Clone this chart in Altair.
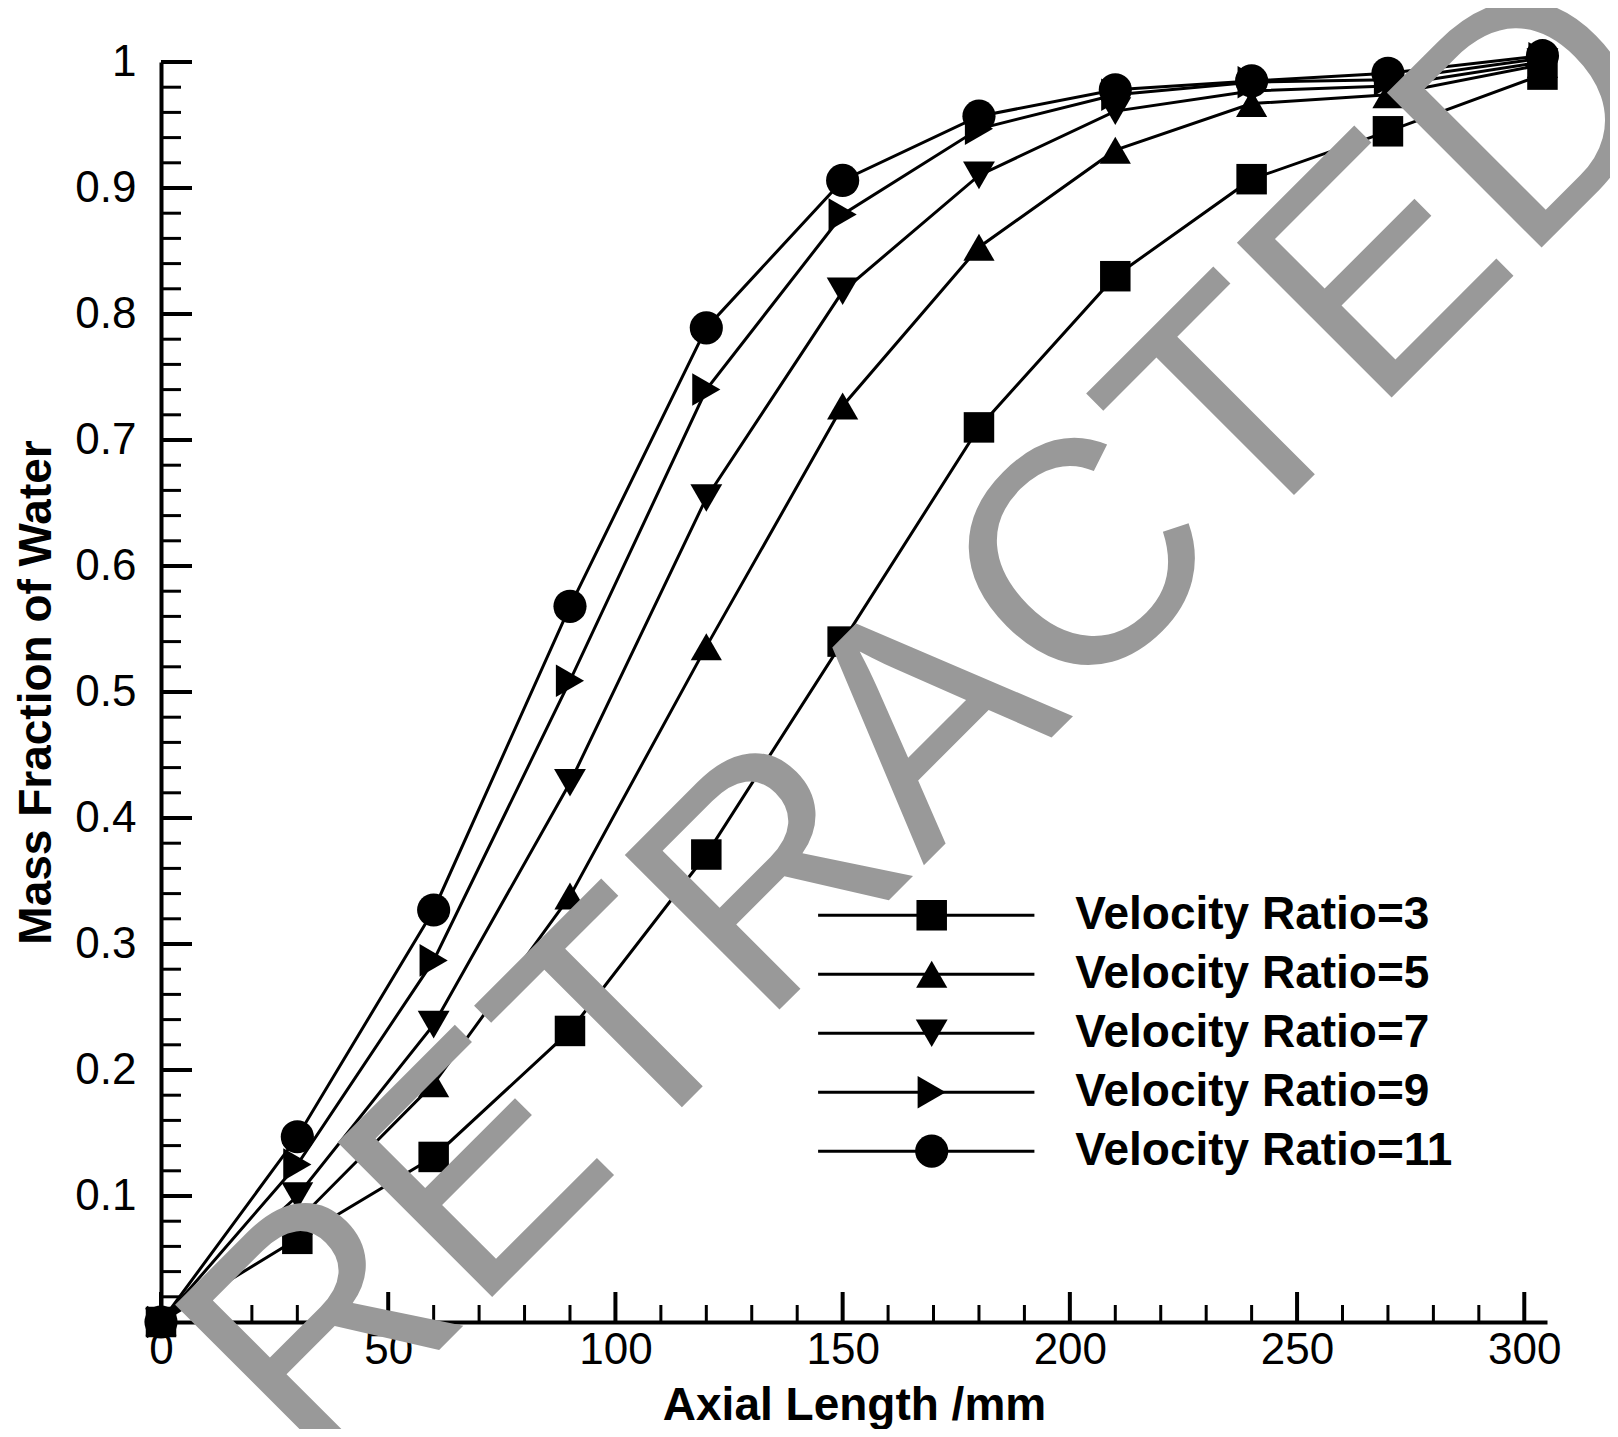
import altair as alt
import pandas as pd

# ---------------- data ----------------
x_mm = [0, 30, 60, 90, 120, 150, 180, 210, 240, 270, 304]

vr3 = [0.0, 0.066, 0.131, 0.231, 0.371, 0.540, 0.710, 0.830, 0.907, 0.945, 0.990]
vr5 = [0.0, 0.080, 0.189, 0.338, 0.536, 0.727, 0.853, 0.930, 0.967, 0.974, 0.998]
vr7 = [0.0, 0.100, 0.236, 0.428, 0.654, 0.818, 0.910, 0.961, 0.977, 0.981, 1.000]
vr9 = [0.0, 0.125, 0.287, 0.509, 0.740, 0.879, 0.947, 0.974, 0.984, 0.986, 1.003]
vr11 = [0.0, 0.147, 0.327, 0.568, 0.789, 0.906, 0.957, 0.978, 0.985, 0.991, 1.005]

labels = ["Velocity Ratio=3", "Velocity Ratio=5", "Velocity Ratio=7",
          "Velocity Ratio=9", "Velocity Ratio=11"]
shapes = ["square", "triangle-up", "triangle-down", "triangle-right", "circle"]
marker_sizes = [930, 1100, 1100, 1100, 1050]

x_major = [0, 50, 100, 150, 200, 250, 300]
x_minor = [10, 20, 30, 40, 60, 70, 80, 90, 110, 120, 130, 140, 160, 170, 180, 190,
           210, 220, 230, 240, 260, 270, 280, 290]
y_major = [0.1, 0.2, 0.3, 0.4, 0.5, 0.6, 0.7, 0.8, 0.9, 1.0]
y_minor = [0.02, 0.04, 0.06, 0.08, 0.12, 0.14, 0.16, 0.18, 0.22, 0.24, 0.26, 0.28,
           0.32, 0.34, 0.36, 0.38, 0.42, 0.44, 0.46, 0.48, 0.52, 0.54, 0.56, 0.58,
           0.62, 0.64, 0.66, 0.68, 0.72, 0.74, 0.76, 0.78, 0.82, 0.84, 0.86, 0.88,
           0.92, 0.94, 0.96, 0.98]

watermark_text = ["RETRACTED"]

# ---------------- layout constants ----------------
W, H = 1386, 1260
FONT = "Liberation Sans"
XDOM = [0, 305]
YDOM = [0, 1]

rows = []
for lab, ys in zip(labels, [vr3, vr5, vr7, vr9, vr11]):
    for xv, yv in zip(x_mm, ys):
        rows.append({"series": lab, "x": xv, "y": yv})
df = pd.DataFrame(rows)

xs = alt.Scale(domain=XDOM, nice=False, zero=False)
ys_ = alt.Scale(domain=YDOM, nice=False, zero=False)
shape_scale = alt.Scale(domain=labels, range=shapes)
size_scale = alt.Scale(domain=labels, range=marker_sizes)

x_axis = alt.Axis(values=x_major, format="d", title="Axial Length /mm",
                  labelFont=FONT, labelFontSize=44, labelColor="black", labelPadding=6,
                  labelFlush=False, labelOverlap=False,
                  ticks=False, grid=False, domainWidth=4, domainColor="black",
                  titleFont=FONT, titleFontSize=46, titleFontWeight="bold",
                  titleColor="black", titleY=83, titleBaseline="middle")
y_axis = alt.Axis(values=y_major, format=".1~f", title="Mass Fraction of Water",
                  labelFont=FONT, labelFontSize=44, labelColor="black", labelPadding=25,
                  labelFlush=False, labelOverlap=False,
                  ticks=False, grid=False, domainWidth=4, domainColor="black",
                  titleFont=FONT, titleFontSize=46, titleFontWeight="bold",
                  titleColor="black", titleAngle=270, titleX=-125, titleY=H / 2,
                  titleAlign="center", titleBaseline="middle")

base = alt.Chart(df)
lines = base.mark_line(color="black", strokeWidth=3).encode(
    x=alt.X("x:Q", scale=xs, axis=x_axis),
    y=alt.Y("y:Q", scale=ys_, axis=y_axis),
    detail="series:N",
)
points = base.mark_point(filled=True, color="black", opacity=1).encode(
    x=alt.X("x:Q", scale=xs),
    y=alt.Y("y:Q", scale=ys_),
    shape=alt.Shape("series:N", scale=shape_scale, legend=None),
    size=alt.Size("series:O", scale=size_scale, legend=None),
)

# inward ticks
def xticks(vals, length, width):
    return alt.Chart(pd.DataFrame({"x": vals})).mark_rule(
        color="black", strokeWidth=width).encode(
        x=alt.X("x:Q", scale=xs), y=alt.value(H), y2=alt.value(H - length))

def yticks(vals, length, width):
    return alt.Chart(pd.DataFrame({"y": vals})).mark_rule(
        color="black", strokeWidth=width).encode(
        y=alt.Y("y:Q", scale=ys_), x=alt.value(0), x2=alt.value(length))

tick_layers = [xticks(x_major, 30, 4), xticks(x_minor, 17, 3),
               yticks(y_major, 31, 4), yticks(y_minor, 20, 3)]

# custom legend (line + marker + label)
LEG_Y0, LEG_DY = 0.3228, 0.0468
LEG_X0, LEG_X1, LEG_XM, LEG_XT = 144.6, 192.2, 169.6, 201.2
leg = pd.DataFrame({
    "series": labels,
    "ly": [LEG_Y0 - i * LEG_DY for i in range(len(labels))],
    "x0": [LEG_X0] * len(labels),
    "x1": [LEG_X1] * len(labels),
    "xm": [LEG_XM] * len(labels),
    "xt": [LEG_XT] * len(labels),
})
lbase = alt.Chart(leg)
leg_lines = lbase.mark_rule(color="black", strokeWidth=3).encode(
    x=alt.X("x0:Q", scale=xs), x2="x1:Q", y=alt.Y("ly:Q", scale=ys_))
leg_pts = lbase.mark_point(filled=True, color="black", opacity=1).encode(
    x=alt.X("xm:Q", scale=xs), y=alt.Y("ly:Q", scale=ys_),
    shape=alt.Shape("series:N", scale=shape_scale, legend=None),
    size=alt.Size("series:O", scale=size_scale, legend=None))
leg_txt = lbase.mark_text(align="left", baseline="middle", font=FONT, fontSize=46,
                          fontWeight="bold", color="black").encode(
    x=alt.X("xt:Q", scale=xs), y=alt.Y("ly:Q", scale=ys_), text="series:N")

# watermark
wm = alt.Chart(pd.DataFrame({"x": [169.5], "y": [0.475], "t": watermark_text})).mark_text(
    font=FONT, fontSize=318, angle=315, color="#999999", align="center",
    baseline="middle").encode(
    x=alt.X("x:Q", scale=xs), y=alt.Y("y:Q", scale=ys_), text="t:N")

chart = alt.layer(lines, points, *tick_layers, leg_lines, leg_pts, leg_txt, wm).properties(
    width=W, height=H,
    autosize=alt.AutoSizeParams(type="none"),
    padding={"left": 153, "top": 54, "right": 63, "bottom": 107},
    background="white",
).configure_view(stroke=None)

chart.save("out.html", embed_options={"renderer": "svg", "actions": False})
